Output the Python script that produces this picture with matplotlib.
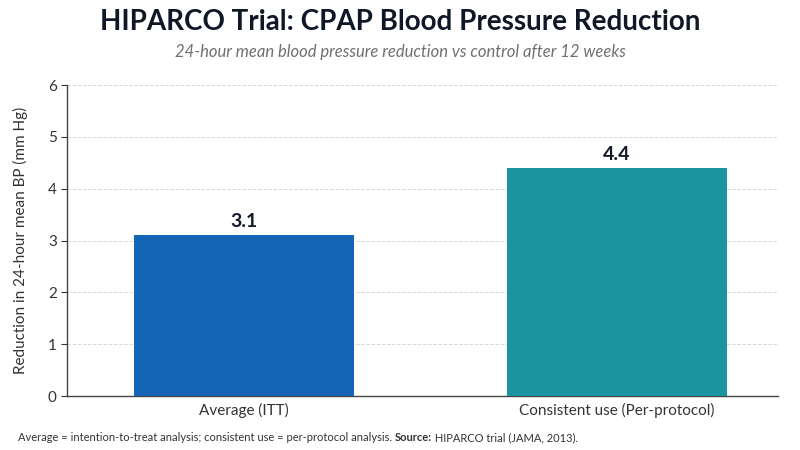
import matplotlib
matplotlib.use('Agg')
import matplotlib.pyplot as plt
from matplotlib import font_manager

# data
categories = ['Average (ITT)', 'Consistent use (Per-protocol)']
reductions = [3.1, 4.4]
bar_colors = ['#1565b6', '#1a94a0']
y_ticks = [0, 1, 2, 3, 4, 5, 6]

title = 'HIPARCO Trial: CPAP Blood Pressure Reduction'
subtitle = '24-hour mean blood pressure reduction vs control after 12 weeks'
ylabel = 'Reduction in 24-hour mean BP (mm Hg)'
note_parts = ['Average = intention-to-treat analysis; consistent use = per-protocol analysis. ',
              'Source:', ' HIPARCO trial (JAMA, 2013).']

# pick a narrow font if there is one, Calibri-like look
names = {f.name for f in font_manager.fontManager.ttflist}
font = 'Liberation Sans Narrow' if 'Liberation Sans Narrow' in names else 'Lato'
plt.rcParams['font.family'] = [font, 'DejaVu Sans']

fig = plt.figure(figsize=(8, 4.5), dpi=100)
ax = fig.add_axes([0.084, 0.12, 0.8885, 0.691])

x = list(range(len(categories)))
ax.bar(x, reductions, width=0.59, color=bar_colors, zorder=3)
for xi, v in zip(x, reductions):
    ax.text(xi, v + 0.1, f'{v:.1f}', ha='center', va='bottom',
            fontsize=14, fontweight='bold', color='#111827')

ax.set_xlim(-0.473, 1.433)
ax.set_ylim(0, 6)
ax.set_yticks(y_ticks)
ax.set_xticks(x)
ax.set_xticklabels(categories, fontsize=11, color='#333333')
ax.tick_params(axis='y', labelsize=11, colors='#333333', length=4)
ax.tick_params(axis='x', length=0, pad=5)
ax.yaxis.grid(True, linestyle='--', color='#d9d9d9', linewidth=0.7, zorder=0)
ax.set_ylabel(ylabel, fontsize=11, color='#333333', labelpad=14)
for s in ['top', 'right']:
    ax.spines[s].set_visible(False)
for s in ['left', 'bottom']:
    ax.spines[s].set_color('#444444')
    ax.spines[s].set_linewidth(1)

fig.text(0.5, 0.95, title, ha='center', va='center', fontsize=20,
         fontweight='bold', color='#101828')
fig.text(0.5, 0.885, subtitle, ha='center', va='center', fontsize=12,
         style='italic', color='#707070')

# footnote in pieces so "Source:" can be bold
renderer = fig.canvas.get_renderer()
xpos = 0.022
for i, part in enumerate(note_parts):
    t = fig.text(xpos, 0.027, part, fontsize=8, color='#333333', va='center',
                 fontweight='bold' if i == 1 else 'normal')
    bb = t.get_window_extent(renderer=renderer)
    xpos += bb.width / fig.bbox.width

fig.savefig('out.png', dpi=100, facecolor='white')
